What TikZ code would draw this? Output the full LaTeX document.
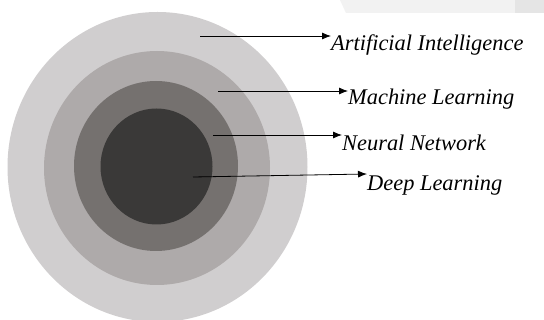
\documentclass[tikz,border=0pt]{standalone}
\usepackage{fontspec}
\setmainfont{Liberation Serif}
\usetikzlibrary{arrows.meta}

\definecolor{ringA}{HTML}{D0CECF}
\definecolor{ringB}{HTML}{AEAAAA}
\definecolor{ringC}{HTML}{75716F}
\definecolor{ringD}{HTML}{3A3938}

\tikzset{
  lbl/.style={anchor=west, inner sep=0pt, font=\fontsize{22.4}{26}\selectfont\itshape},
  pointer/.style={draw, line width=0.8pt, -{Latex[length=9pt,width=7pt]}}
}

\begin{document}
\begin{tikzpicture}[x=1pt,y=-1pt]
\useasboundingbox (0,0) rectangle (544,320);
\clip (0,0) rectangle (544,320);
\fill[white] (0,0) rectangle (544,320);
% faint bar at the top right
\fill[black!5] (340,0) -- (544,0) -- (544,13) -- (346,13) -- cycle;
\fill[black!10] (515,0) rectangle (544,13);
% rings
\fill[ringA] (157.5,167) ellipse [x radius=150pt, y radius=155pt];
\fill[ringB] (157,168) ellipse [x radius=113pt, y radius=117pt];
\fill[ringC] (156,166) ellipse [x radius=82pt, y radius=85pt];
\fill[ringD] (156.5,166.5) ellipse [x radius=56pt, y radius=58pt];
% labels
\node[lbl] (ai) at (331,45) {Artificial Intelligence};
\node[lbl] (ml) at (348,99) {Machine Learning};
\node[lbl] (nn) at (342,143) {Neural Network};
\node[lbl] (dl) at (367,185) {Deep Learning};
\coordinate (ai-s) at (200,36);
\coordinate (ml-s) at (218,91);
\coordinate (nn-s) at (213,135);
\coordinate (dl-s) at (193,177);
\path[pointer] (ai-s) -- (ai-s -| ai.west);
\path[pointer] (ml-s) -- (ml-s -| ml.west);
\path[pointer] (nn-s) -- (nn-s -| nn.west);
\path[pointer] (dl-s) -- ([yshift=11pt]dl.west);
\end{tikzpicture}
\end{document}
